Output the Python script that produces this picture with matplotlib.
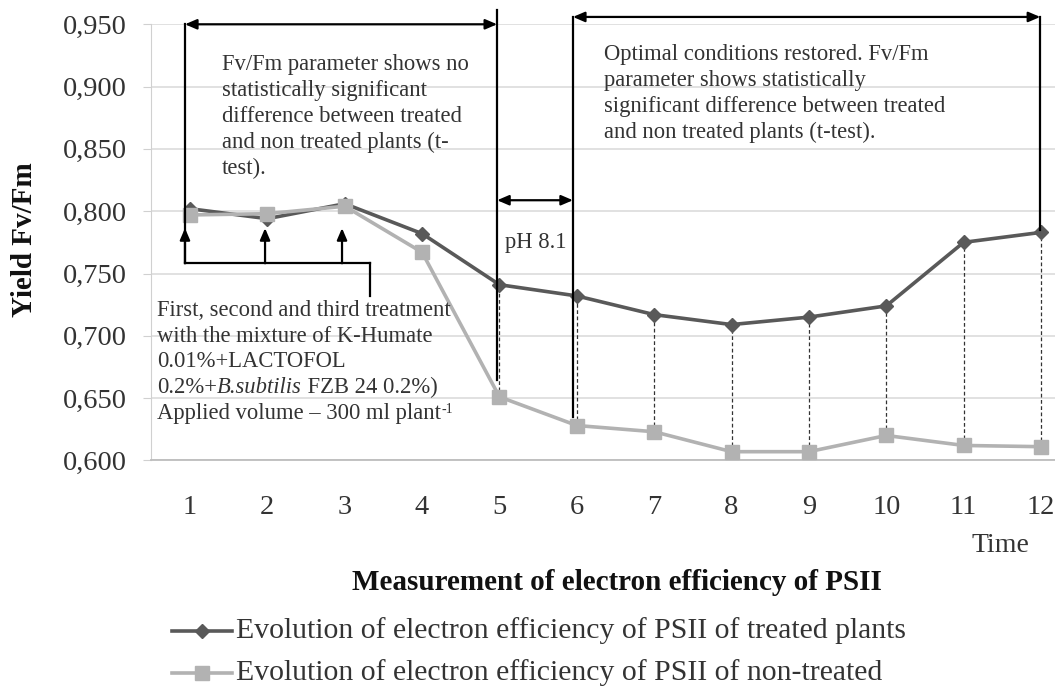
import matplotlib
matplotlib.use("Agg")
import matplotlib.pyplot as plt
from matplotlib.lines import Line2D
from matplotlib.text import Annotation

# Measurement series
times = [1, 2, 3, 4, 5, 6, 7, 8, 9, 10, 11, 12]
treated = [0.802, 0.794, 0.806, 0.782, 0.741, 0.732, 0.717, 0.709, 0.715, 0.724, 0.775, 0.783]
non_treated = [0.797, 0.798, 0.804, 0.767, 0.651, 0.628, 0.623, 0.607, 0.607, 0.620, 0.612, 0.611]
y_ticks = [0.600, 0.650, 0.700, 0.750, 0.800, 0.850, 0.900, 0.950]
y_tick_labels = ["0,600", "0,650", "0,700", "0,750", "0,800", "0,850", "0,900", "0,950"]

label_treated = "Evolution of electron efficiency of PSII of treated plants"
label_non = "Evolution of electron efficiency of PSII of non-treated"

DARK = "#595959"
LIGHT = "#b2b2b2"
TEXT = "#333333"
SERIF = ["Liberation Serif", "DejaVu Serif"]

plt.rcParams["font.family"] = SERIF

W, H = 1055, 693
fig = plt.figure(figsize=(W / 100, H / 100), dpi=100)

def px_box(x0, y0, x1, y1):
    return [x0 / W, 1 - y1 / H, (x1 - x0) / W, (y1 - y0) / H]

def fpos(x, y):
    return x / W, 1 - y / H

ax = fig.add_axes(px_box(151, 24.3, 1055, 460.4))
x_lo = 1 - 39 / 77.36
x_hi = 12 + 14 / 77.36
ax.set_xlim(x_lo, x_hi)
ax.set_ylim(0.600, 0.950)

ax.set_yticks(y_ticks)
ax.set_yticklabels(y_tick_labels)
ax.set_xticks(times)
ax.set_xticklabels([str(t) for t in times])
ax.yaxis.grid(True, color="#d9d9d9", lw=1.1)
ax.set_axisbelow(True)
for s in ["top", "right"]:
    ax.spines[s].set_visible(False)
ax.spines["left"].set_color("#d0d0d0")
ax.spines["bottom"].set_color("#bdbdbd")
ax.spines["bottom"].set_linewidth(1.3)
ax.tick_params(axis="y", length=6, color="#d0d0d0", labelsize=20.5, labelcolor=TEXT, pad=11.5)
ax.tick_params(axis="x", length=0, labelsize=20.5, labelcolor=TEXT, pad=25)

# dashed drop lines between the two series
for t, a, b in zip(times[4:], treated[4:], non_treated[4:]):
    ax.plot([t, t], [b, a], ls=(0, (3, 2)), color="#333333", lw=0.9, zorder=2)

ax.plot(times, treated, color=DARK, lw=2.6, marker="D", ms=7, mfc=DARK, mec=DARK, zorder=3)
ax.plot(times, non_treated, color=LIGHT, lw=2.6, marker="s", ms=10, mfc=LIGHT, mec=LIGHT, zorder=4)

# bracket and arrow annotations
K = dict(color="black", lw=1.6, clip_on=False, zorder=5)
ARR = dict(arrowstyle="<|-|>,head_length=0.7,head_width=0.3", color="black", lw=1.6,
           shrinkA=0, shrinkB=0)
UP = dict(arrowstyle="-|>,head_length=0.7,head_width=0.3", color="black", lw=1.6,
          shrinkA=0, shrinkB=0)

xa, xb, xc = 0.935, 4.97, 5.95
x_end = 11.99
ax.plot([xa, xa], [0.7582, 0.950], **K)
ax.annotate("", xy=(xa, 0.950), xytext=(xb, 0.950), arrowprops=ARR, annotation_clip=False)
ax.plot([xb, xb], [0.6643, 0.9615], **K)
ax.annotate("", xy=(xb, 0.8088), xytext=(xc, 0.8088), arrowprops=ARR, annotation_clip=False)
ax.plot([xc, xc], [0.6346, 0.9559], **K)
ax.annotate("", xy=(xc, 0.9559), xytext=(x_end, 0.9559), arrowprops=ARR, annotation_clip=False)
ax.plot([x_end, x_end], [0.785, 0.9559], **K)

# treatment arrows
for xt in [xa, 1.97, 2.965]:
    ax.annotate("", xy=(xt, 0.7864), xytext=(xt, 0.7582), arrowprops=UP, annotation_clip=False)
ax.plot([xa, 3.33], [0.7582, 0.7582], **K)
ax.plot([3.33, 3.33], [0.7582, 0.7318], **K)

FS = 16.3
TXT = dict(fontsize=FS, color=TEXT, va="top", ha="left", linespacing=1.31)
ax.text(1.41, 0.926,
        "Fv/Fm parameter shows no\nstatistically significant\ndifference between treated\n"
        "and non treated plants (t-\ntest).", **TXT)
ax.text(6.35, 0.934,
        "Optimal conditions restored. Fv/Fm\nparameter shows statistically\n"
        "significant difference between treated\nand non treated plants (t-test).", **TXT)
ax.text(5.07, 0.775, "pH 8.1", fontsize=FS, color=TEXT, va="center", ha="left")


def run_chain(x, y, parts):
    """Write one line made of differently styled runs, each placed after the previous one."""
    first, kw = parts[0]
    t = fig.text(*fpos(x, y), first, fontsize=FS, color=TEXT, va="baseline", ha="left", **kw)
    for s, kw in parts[1:]:
        opts = {"fontsize": FS, "va": "bottom", "xy": (1, 0)}
        opts.update(kw)
        xy = opts.pop("xy")
        t = fig.add_artist(Annotation(s, xy=xy, xycoords=t, color=TEXT, ha="left", **opts))
    return t


pitch = 25.7
base = 316
run_chain(157, base, [("First, second and third treatment", {})])
run_chain(157, base + pitch, [("with the mixture of K-Humate", {})])
run_chain(157, base + 2 * pitch, [("0.01%+LACTOFOL", {})])
run_chain(157, base + 3 * pitch, [("0.2%+", {}), ("B.subtilis", {"style": "italic"}),
                                  (" FZB 24 0.2%)", {})])
run_chain(157, base + 4 * pitch, [("Applied volume – 300 ml plant", {}),
                                  ("-1", {"fontsize": 10, "va": "top", "xy": (1, 1.0)})])

fig.text(1000 / W, 1 - 545 / H, "Time", fontsize=20, color=TEXT, ha="center", va="center")
fig.text(617 / W, 1 - 583 / H, "Measurement of electron efficiency of PSII",
         fontsize=21, fontweight="bold", color="#111111", ha="center", va="center")
fig.text(25 / W, 1 - 240 / H, "Yield Fv/Fm", fontsize=21, fontweight="bold",
         color="#111111", ha="center", va="center", rotation=90)

# legend drawn below the axes
for yy, col, mk, ms, lab in [(631, DARK, "D", 7, label_treated), (673, LIGHT, "s", 10, label_non)]:
    fy = 1 - yy / H
    fig.add_artist(Line2D([172 / W, 232 / W], [fy, fy], color=col, lw=2.6,
                          transform=fig.transFigure))
    fig.add_artist(Line2D([202 / W], [fy], color=col, marker=mk, ms=ms, mfc=col, mec=col,
                          transform=fig.transFigure))
    fig.text(236 / W, fy, lab, fontsize=21.4, color=TEXT, ha="left", va="center")

fig.savefig("out.png", dpi=100)
